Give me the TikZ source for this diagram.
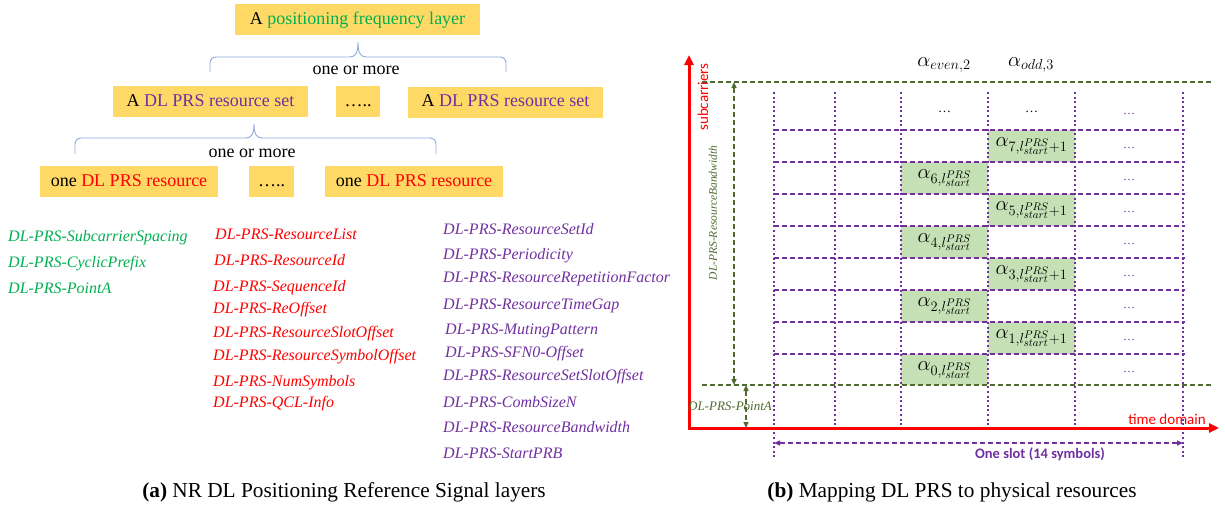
\documentclass[tikz,border=0pt]{standalone}
\usepackage{fontspec}
\setmainfont{Liberation Serif}
\newfontfamily\carlito{Carlito}
\usetikzlibrary{arrows.meta}

\definecolor{boxyellow}{HTML}{FFD966}
\definecolor{pgreen}{HTML}{00B050}
\definecolor{pred}{HTML}{FF0000}
\definecolor{ppurple}{HTML}{7030A0}
\definecolor{braceblue}{HTML}{8FAADC}
\definecolor{dkgreen}{HTML}{4F6B2F}
\definecolor{cellgreen}{HTML}{C5E0B4}

\begin{document}
\begin{tikzpicture}[x=1pt,y=-1pt,
  ybox/.style={fill=boxyellow, inner sep=0pt, minimum height=31pt,
    text height=13pt, text depth=4pt, font=\fontsize{18}{20}\selectfont},
  braceline/.style={draw=braceblue, line width=0.9pt},
  treelabel/.style={inner sep=0pt, font=\fontsize{18}{20}\selectfont},
  param/.style={anchor=west, inner sep=0pt, text height=11pt, text depth=3pt,
    font=\fontsize{16}{18}\selectfont\itshape},
  axisline/.style={draw=pred, line width=3pt, -{Triangle[length=10pt,width=9pt]}},
  gdash/.style={draw=dkgreen, line width=1.4pt, dash pattern=on 5pt off 3pt},
  gtips/.style={{Triangle[length=6pt,width=5pt]}-{Triangle[length=6pt,width=5pt]}},
  pdash/.style={draw=ppurple, line width=1.4pt, dash pattern=on 5pt off 3pt},
  pdot/.style={draw=ppurple, line width=2.2pt, dash pattern=on 2pt off 2.6pt},
  cell/.style={fill=cellgreen},
  amath/.style={inner sep=0pt, font=\fontsize{21}{22}\selectfont},
  pdots/.style={inner sep=0pt, text=ppurple, font=\fontsize{12}{12}\selectfont},
  bdots/.style={inner sep=0pt, font=\fontsize{13}{13}\selectfont},
  caption/.style={inner sep=0pt, font=\fontsize{21.3}{23}\selectfont}
]
\useasboundingbox (0,0) rectangle (1225,506);

% ---------------- (a) layer hierarchy ----------------
\node[ybox, minimum width=245pt] (pfl) at (357.5,19.5) {A \textcolor{pgreen}{positioning frequency layer}};

\draw[braceline, rounded corners=6pt] (210,72) -- (210,57) -- (350,57);
\draw[braceline] (350,57) .. controls (356,57) and (358,52) .. (358,42)
                          .. controls (358,52) and (360,57) .. (366,57);
\draw[braceline, rounded corners=6pt] (366,57) -- (506,57) -- (506,72);
\node[treelabel] (more1) at (356,70) {one or more};

\node[ybox, minimum width=195pt] (set1) at (210.5,101.5) {A \textcolor{ppurple}{DL PRS resource set}};
\node[ybox, minimum width=44pt] (setdots) at (358,101.5) {…..};
\node[ybox, minimum width=195pt] (set2) at (505.5,102) {A \textcolor{ppurple}{DL PRS resource set}};

\draw[braceline, rounded corners=6pt] (75,154) -- (75,138) -- (246,138);
\draw[braceline] (246,138) .. controls (252,138) and (254,133) .. (254,124)
                           .. controls (254,133) and (256,138) .. (262,138);
\draw[braceline, rounded corners=6pt] (262,138) -- (436,138) -- (436,154);
\node[treelabel] (more2) at (252,153) {one or more};

\node[ybox, minimum width=178pt] (res1) at (129,181.5) {one \textcolor{pred}{DL PRS resource}};
\node[ybox, minimum width=45pt] (resdots) at (271.5,181.5) {…..};
\node[ybox, minimum width=178pt] (res2) at (414,181.5) {one \textcolor{pred}{DL PRS resource}};

% parameter lists
\begin{scope}[every node/.append style={param, text=pgreen}]
  \node (g1) at (8,237) {DL-PRS-SubcarrierSpacing};
  \node (g2) at (8,263) {DL-PRS-CyclicPrefix};
  \node (g3) at (8,289) {DL-PRS-PointA};
\end{scope}
\begin{scope}[every node/.append style={param, text=pred}]
  \node (r1) at (215,235) {DL-PRS-ResourceList};
  \node (r2) at (214,261) {DL-PRS-ResourceId};
  \node (r3) at (213,287) {DL-PRS-SequenceId};
  \node (r4) at (213,309) {DL-PRS-ReOffset};
  \node (r5) at (213,333) {DL-PRS-ResourceSlotOffset};
  \node (r6) at (213,356) {DL-PRS-ResourceSymbolOffset};
  \node (r7) at (213,382) {DL-PRS-NumSymbols};
  \node (r8) at (213,403) {DL-PRS-QCL-Info};
\end{scope}
\begin{scope}[every node/.append style={param, text=ppurple}]
  \node (s1) at (443,230) {DL-PRS-ResourceSetId};
  \node (s2) at (443,255) {DL-PRS-Periodicity};
  \node (s3) at (443,278) {DL-PRS-ResourceRepetitionFactor};
  \node (s4) at (443,305) {DL-PRS-ResourceTimeGap};
  \node (s5) at (445,330) {DL-PRS-MutingPattern};
  \node (s6) at (445,353) {DL-PRS-SFN0-Offset};
  \node (s7) at (443,376) {DL-PRS-ResourceSetSlotOffset};
  \node (s8) at (443,403) {DL-PRS-CombSizeN};
  \node (s9) at (443,428) {DL-PRS-ResourceBandwidth};
  \node (s10) at (443,454) {DL-PRS-StartPRB};
\end{scope}

\node[caption] (capa) at (344,492) {\textbf{(a)} NR DL Positioning Reference Signal layers};

% ---------------- (b) resource grid ----------------
% occupied resource elements
\fill[cell] (988,130) rectangle (1075,162);
\fill[cell] (901,162) rectangle (988,194);
\fill[cell] (988,194) rectangle (1075,226);
\fill[cell] (901,226) rectangle (988,258);
\fill[cell] (988,258) rectangle (1075,290);
\fill[cell] (901,290) rectangle (988,322);
\fill[cell] (988,322) rectangle (1075,354);
\fill[cell] (901,354) rectangle (988,385);

% subcarrier rows
\foreach \yy in {130,162,194,226,258,290,322,354}
  \draw[pdash] (774,\yy) -- (1185,\yy);

% symbol columns
\foreach \xx in {835,901,988,1075}
  \draw[pdot] (\xx,92) -- (\xx,428);
\draw[pdot] (774,92) -- (774,458);
\draw[pdot] (1183,92) -- (1183,458);

% bandwidth limits
\coordinate (bwl1) at (702,82);  \coordinate (bwr1) at (1212,82);
\coordinate (bwl2) at (702,385); \coordinate (bwr2) at (1212,385);
\draw[gdash] (bwl1) -- (bwr1);
\draw[gdash] (bwl2) -- (bwr2);
\coordinate (bwtop) at (734,82);  \coordinate (bwbot) at (734,385);
\draw[gdash, gtips, dkgreen] (bwtop) -- (bwbot);
\coordinate (patop) at (746,385); \coordinate (pabot) at (746,428);
\draw[gdash, gtips, dkgreen] (patop) -- (pabot);

% axes
\coordinate (O) at (689,428);
\coordinate (ytip) at (689,55);
\coordinate (xtip) at (1219,428);
\draw[axisline] ([yshift=1.5pt]O) -- (ytip);
\draw[axisline] ([xshift=-1.5pt]O) -- (xtip);

% slot span
\coordinate (sl) at (774,443); \coordinate (sr) at (1183,443);
\draw[pdash, {Triangle[length=6pt,width=5pt]}-{Triangle[length=6pt,width=5pt]}, ppurple] (sl) -- (sr);

% labels
\node[inner sep=0pt, rotate=90, text=pred, font=\carlito\fontsize{15}{16}\selectfont] (subc) at (703,97) {subcarriers};
\node[inner sep=0pt, rotate=90, text=dkgreen, font=\fontsize{11.5}{12}\selectfont\itshape] (bwlab) at (713,213) {DL-PRS-ResourceBandwidth};
\node[inner sep=0pt, text=dkgreen, font=\fontsize{13}{14}\selectfont\itshape] (palab) at (730,406) {DL-PRS-PointA};
\node[inner sep=0pt, text=pred, font=\carlito\fontsize{15}{16}\selectfont] (tdom) at (1167,419) {time domain};
\node[inner sep=0pt, text=ppurple, font=\carlito\bfseries\fontsize{14.5}{16}\selectfont] (slot) at (1040,454) {One slot (14 symbols)};

\node[amath] (aeven) at (944,65) {$\alpha_{even,2}$};
\node[amath] (aodd) at (1031,65) {$\alpha_{odd,3}$};

\node[amath] (a7) at (1031.5,146) {$\alpha_{7,l_{start}^{PRS}+1}$};
\node[amath] (a6) at (944.5,178) {$\alpha_{6,l_{start}^{PRS}}$};
\node[amath] (a5) at (1031.5,210) {$\alpha_{5,l_{start}^{PRS}+1}$};
\node[amath] (a4) at (944.5,242) {$\alpha_{4,l_{start}^{PRS}}$};
\node[amath] (a3) at (1031.5,274) {$\alpha_{3,l_{start}^{PRS}+1}$};
\node[amath] (a2) at (944.5,306) {$\alpha_{2,l_{start}^{PRS}}$};
\node[amath] (a1) at (1031.5,338) {$\alpha_{1,l_{start}^{PRS}+1}$};
\node[amath] (a0) at (944.5,370) {$\alpha_{0,l_{start}^{PRS}}$};

\node[bdots] (d1) at (944.5,112) {…};
\node[bdots] (d2) at (1031.5,112) {…};
\foreach \yy [count=\i] in {114,148,180,212,244,276,308,340,372}
  \node[pdots] (pd\i) at (1129,\yy) {…};

\node[caption] (capb) at (952,492) {\textbf{(b)} Mapping DL PRS to physical resources};
\end{tikzpicture}
\end{document}
